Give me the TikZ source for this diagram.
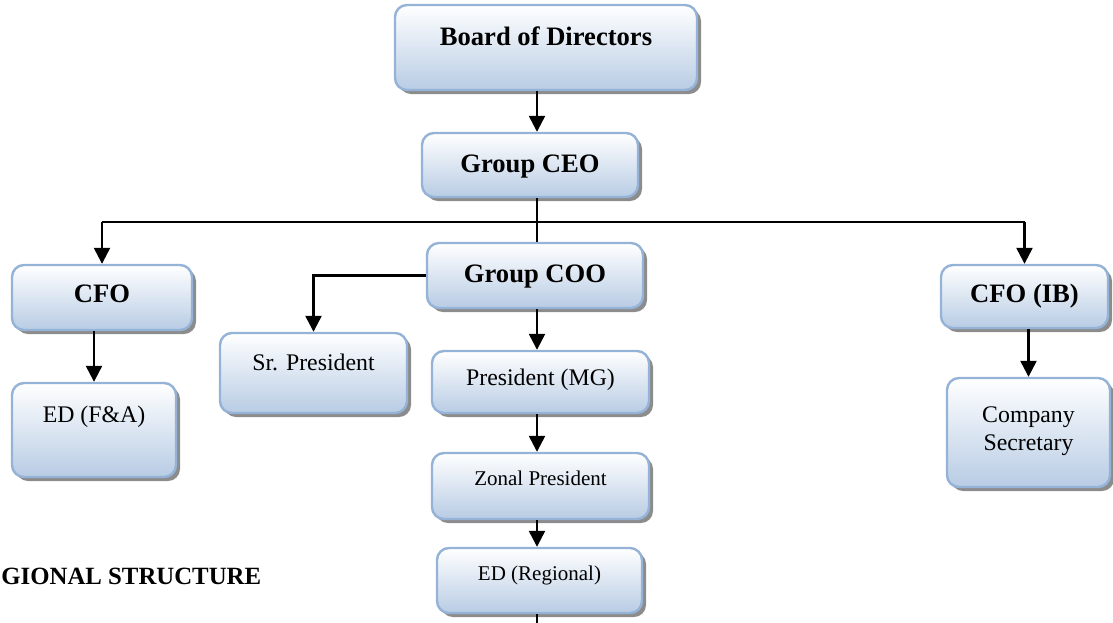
\documentclass[tikz,border=0pt]{standalone}
\usepackage{fontspec}
\setmainfont{Liberation Serif}
\usetikzlibrary{arrows.meta,shadows}
\definecolor{boxline}{RGB}{149,179,215}
\definecolor{boxfill}{RGB}{184,204,228}
\tikzset{%
  orgbox/.style = {shape=rectangle, rounded corners=6pt,%
                   draw=boxline, line width=1.2pt, inner sep=0pt,%
                   top color=white, bottom color=boxfill,%
                   drop shadow={shadow xshift=2pt, shadow yshift=-2pt,%
                                fill=black!45, opacity=1}},%
  head/.style     = {orgbox, font=\fontsize{13.3}{16}\selectfont\bfseries},%
  post/.style     = {orgbox, font=\fontsize{11.9}{14}\selectfont},%
  minor/.style    = {orgbox, font=\fontsize{10.5}{12.5}\selectfont},%
  arr/.style      = {line width=1.2pt, -{Triangle[length=8pt,width=8pt]}},%
  link/.style     = {line width=0.8pt}%
}

\begin{document}
\begin{tikzpicture}[x=0.5pt, y=-0.5pt]
              \useasboundingbox (0,0) rectangle (1113,622);
              \clip (0,0) rectangle (1113,622);
              % top of the chart
              \node[head, minimum width=151pt, text height=20pt, text depth=22.5pt] (board) at (546,47.5) {Board of Directors};
              \node[head, minimum width=108pt, text height=19.5pt, text depth=12.5pt] (ceo) at (530,165) {Group CEO};
              \node[head, minimum width=108pt, text height=19.5pt, text depth=13pt] (coo) at (535,275.5) {Group COO};
              \node[head, minimum width=90pt, text height=18.5pt, text depth=14pt] (cfo) at (102,297.5) {CFO};
              \node[head, minimum width=83.5pt, text height=18.5pt, text depth=13pt] (cfoib) at (1024.5,296.5) {CFO (IB)};
              % second level
              \node[post, minimum width=82pt, text height=19.5pt, text depth=27.5pt] (edfa) at (94,430) {ED (F\&A)};
              \node[post, minimum width=93.5pt, text height=18.5pt, text depth=21.5pt] (srpres) at (313.5,373) {Sr. President};
              \node[post, minimum width=108.5pt, text height=17pt, text depth=14pt] (presmg) at (540.5,382) {President (MG)};
              \node[post, align=center, minimum width=81.5pt, text height=36pt, text depth=18.5pt] (compsec) at (1028.5,432.5) {Company\\Secretary};
              \node[minor, minimum width=108.5pt, text height=16pt, text depth=17pt] (zonal) at (540.5,486) {Zonal President};
              \node[minor, minimum width=102.5pt, text height=16pt, text depth=16.5pt] (edreg) at (539.5,580.5) {ED (Regional)};
              \node[anchor=base west, inner sep=0pt, font=\fontsize{12.4}{15}\selectfont\bfseries] (regional) at (1,584) {GIONAL STRUCTURE};
              % connectors
              \coordinate (spine) at (537,0);
              \coordinate (bar) at (0,222);
              \coordinate (tail) at (537,640);
              \draw[arr] (board.south -| spine) -- (ceo.north -| spine);
              \draw[link] (ceo.south -| spine) -- (coo.north -| spine);
              \draw[link] (cfo.north |- bar) -- (cfoib.north |- bar);
              \draw[arr] (cfo.north |- bar) -- (cfo.north);
              \draw[arr] (cfoib.north |- bar) -- (cfoib.north);
              \draw[arr] (cfo.south -| edfa.north) -- (edfa.north);
              \draw[arr] (cfoib.south -| compsec.north) -- (compsec.north);
              \draw[arr] (coo.west) -| (srpres.north);
              \draw[arr] (coo.south -| spine) -- (presmg.north -| spine);
              \draw[arr] (presmg.south -| spine) -- (zonal.north -| spine);
              \draw[arr] (zonal.south -| spine) -- (edreg.north -| spine);
              \draw[line width=1.2pt] (edreg.south -| spine) -- (tail);
\end{tikzpicture}
\end{document}
